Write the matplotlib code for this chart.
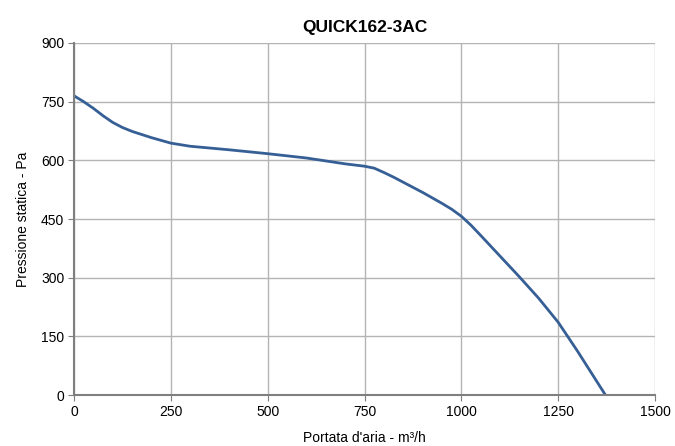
import matplotlib
matplotlib.use("Agg")
import matplotlib.pyplot as plt

plt.rcParams['font.family'] = ['Liberation Sans', 'DejaVu Sans']

# curve
portata = [0, 25, 50, 75, 100, 125, 150, 200, 250, 300, 400, 500, 600, 700,
           750, 775, 800, 825, 850, 900, 950, 975, 1000, 1025, 1050, 1100, 1150,
           1200, 1250, 1300, 1372]
pressione = [765, 750, 733, 714, 697, 684, 674, 658, 644, 636, 627, 617, 606, 591,
             585, 580, 569, 557, 544, 518, 490, 475, 457, 434, 408, 355, 302,
             247, 186, 112, 0]

xticks = [0, 250, 500, 750, 1000, 1250, 1500]
yticks = [0, 150, 300, 450, 600, 750, 900]

fig = plt.figure(figsize=(6.75, 4.46), dpi=100)
ax = fig.add_axes([0.1096, 0.1143, 0.8608, 0.7893])

ax.plot(portata, pressione, color='#365f96', lw=2, solid_joinstyle='round')

ax.set_xlim(0, 1500)
ax.set_ylim(0, 900)
ax.set_xticks(xticks)
ax.set_yticks(yticks)
ax.grid(True, color='#b4b4b4', lw=1)
ax.set_axisbelow(True)

for s in ['top', 'right']:
    ax.spines[s].set_visible(False)
for s in ['left', 'bottom']:
    ax.spines[s].set_color('#7f7f7f')
    ax.spines[s].set_linewidth(1.5)

ax.tick_params(axis='x', length=4, color='#7f7f7f', labelsize=10, pad=3)
ax.tick_params(axis='y', length=4, color='#7f7f7f', labelsize=10, pad=3)

ax.set_title('QUICK162-3AC', fontsize=12.5, fontweight='bold', pad=8)
ax.set_xlabel("Portata d'aria - m³/h", fontsize=10, labelpad=9)
ax.set_ylabel('Pressione statica - Pa', fontsize=10, labelpad=8)

fig.savefig('out.png', dpi=100)
